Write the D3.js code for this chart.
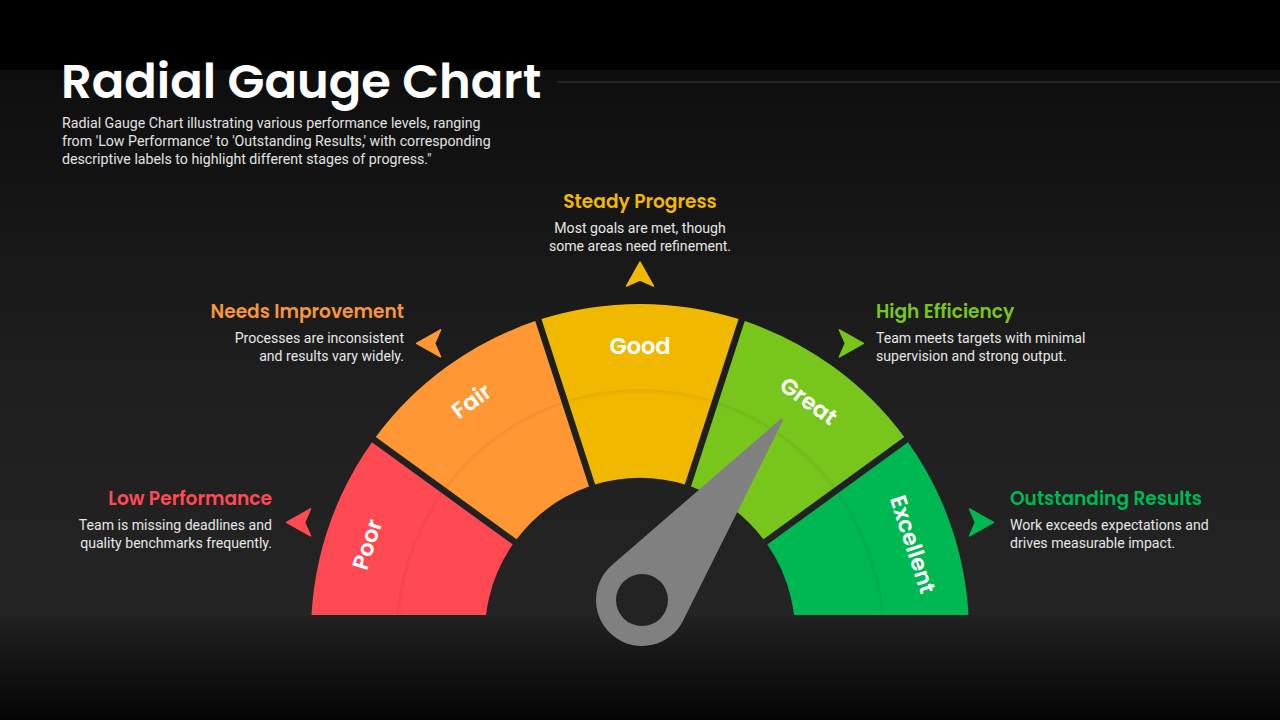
<!DOCTYPE html>
<html>
<head>
<meta charset="utf-8">
<script src="https://cdn.jsdelivr.net/npm/d3@7/dist/d3.min.js"></script>
<style>
  html, body { margin: 0; padding: 0; background: #000; }
  svg { display: block; }
</style>
</head>
<body>
<svg id="chart" width="1280" height="720"></svg>
<script>
// ---------- DATA ----------
const categories = ["Poor", "Fair", "Good", "Great", "Excellent"];
const segmentColors = ["#FF4A54", "#FF9834", "#F1B800", "#78C51C", "#00B852"];
const headings = ["Low Performance", "Needs Improvement", "Steady Progress", "High Efficiency", "Outstanding Results"];
const descriptions = [
  ["Team is missing deadlines and", "quality benchmarks frequently."],
  ["Processes are inconsistent", "and results vary widely."],
  ["Most goals are met, though", "some areas need refinement."],
  ["Team meets targets with minimal", "supervision and strong output."],
  ["Work exceeds expectations and", "drives measurable impact."]
];
const headingColors = ["#FF4A54", "#F7963A", "#F1B800", "#78C51C", "#00B852"];
const needleValue = 71;           // on a 0–100 gauge scale
const gaugeDomain = [0, 100];
const titleText = "Radial Gauge Chart";
const subtitleLines = [
  "Radial Gauge Chart illustrating various performance levels, ranging",
  "from 'Low Performance' to 'Outstanding Results,' with corresponding",
  "descriptive labels to highlight different stages of progress.\""
];

// ---------- SETUP ----------
const W = 1280, H = 720;
const svg = d3.select("#chart");
const defs = svg.append("defs");

const bgGrad = defs.append("linearGradient").attr("id", "bgGrad")
  .attr("x1", 0).attr("y1", 0).attr("x2", 0).attr("y2", 1);
bgGrad.append("stop").attr("offset", "0%").attr("stop-color", "#0e0e0e");
bgGrad.append("stop").attr("offset", "55%").attr("stop-color", "#1e1e1e");
bgGrad.append("stop").attr("offset", "100%").attr("stop-color", "#242424");

const botGrad = defs.append("linearGradient").attr("id", "botGrad")
  .attr("x1", 0).attr("y1", 0).attr("x2", 0).attr("y2", 1);
botGrad.append("stop").attr("offset", "0%").attr("stop-color", "#212121");
botGrad.append("stop").attr("offset", "100%").attr("stop-color", "#050505");

svg.append("rect").attr("width", W).attr("height", H).attr("fill", "#000");
svg.append("rect").attr("x", 0).attr("y", 70).attr("width", W).attr("height", 545).attr("fill", "url(#bgGrad)");
svg.append("rect").attr("x", 0).attr("y", 615).attr("width", W).attr("height", 105).attr("fill", "url(#botGrad)");

// Title
svg.append("text").attr("x", 61).attr("y", 98)
  .attr("fill", "#ffffff")
  .style("font-family", "Poppins, Inter, 'Noto Sans', sans-serif")
  .style("font-weight", 600).style("font-size", "48px")
  .text(titleText);
svg.append("line").attr("x1", 557).attr("x2", W).attr("y1", 82).attr("y2", 82)
  .attr("stroke", "#3a3a3a").attr("stroke-width", 1);

svg.append("g").selectAll("text").data(subtitleLines).join("text")
  .attr("x", 62).attr("y", (d, i) => 128 + i * 18)
  .attr("fill", "#e2e2e2")
  .style("font-family", "Roboto, 'Liberation Sans', sans-serif")
  .style("font-size", "14.2px")
  .text(d => d);

// ---------- GAUGE ----------
const cx = 640, cy = 633;
const rOuter = 329, rInner = 155, rRing = 243;
const deg = Math.PI / 180;

const angleScale = d3.scaleLinear().domain([0, categories.length]).range([-90 * deg, 90 * deg]);
const valueAngle = d3.scaleLinear().domain(gaugeDomain).range([-90 * deg, 90 * deg]);

const segData = categories.map((c, i) => ({
  name: c, i,
  startAngle: i === 0 ? -100 * deg : angleScale(i),
  endAngle: i === categories.length - 1 ? 100 * deg : angleScale(i + 1),
  mid: (angleScale(i) + angleScale(i + 1)) / 2
}));

defs.append("clipPath").attr("id", "gaugeClip")
  .append("rect").attr("x", 0).attr("y", 0).attr("width", W).attr("height", 615);

const gauge = svg.append("g").attr("clip-path", "url(#gaugeClip)");
const gG = gauge.append("g").attr("transform", `translate(${cx},${cy})`);

const arc = d3.arc().innerRadius(rInner).outerRadius(rOuter).padAngle(0.065).padRadius(100);
gG.selectAll("path.seg").data(segData).join("path")
  .attr("class", "seg")
  .attr("d", arc)
  .attr("fill", (d, i) => segmentColors[i]);

// subtle inner ring shadow line
const ringLine = d3.arc().innerRadius(rRing - 1).outerRadius(rRing + 1).padAngle(0.065).padRadius(100);
gG.selectAll("path.ring").data(segData).join("path")
  .attr("class", "ring")
  .attr("d", ringLine)
  .attr("fill", "rgba(0,0,0,0.05)");
const ringLine2 = d3.arc().innerRadius(rRing - 3).outerRadius(rRing - 1).padAngle(0.065).padRadius(100);
gG.selectAll("path.ring2").data(segData).join("path")
  .attr("class", "ring2")
  .attr("d", ringLine2)
  .attr("fill", "rgba(0,0,0,0.025)");

// segment labels
const rLabel = 287;
gG.selectAll("text.lbl").data(segData).join("text")
  .attr("class", "lbl")
  .attr("transform", d => {
    const x = rLabel * Math.sin(d.mid), y = -rLabel * Math.cos(d.mid);
    return `translate(${x},${y}) rotate(${d.mid / deg})`;
  })
  .attr("text-anchor", "middle")
  .attr("dominant-baseline", "central")
  .attr("fill", "#ffffff")
  .style("font-family", "Poppins, Inter, 'Noto Sans', sans-serif")
  .style("font-weight", 600).style("font-size", "22.5px")
  .text(d => d.name);

// ---------- ARROWS ----------
const rArrow = 358;
const arrowPath = "M0,-13 L13.5,11 L0,5 L-13.5,11 Z"; // points up
const arrowDir = [-90, -90, 0, 90, 90];
svg.append("g").attr("transform", `translate(${cx},${cy})`)
  .selectAll("path").data(segData).join("path")
  .attr("d", arrowPath)
  .attr("stroke-linejoin", "round")
  .attr("stroke-width", 1.5)
  .attr("stroke", (d, i) => segmentColors[i])
  .attr("fill", (d, i) => segmentColors[i])
  .attr("transform", (d, i) => {
    const x = rArrow * Math.sin(d.mid), y = -rArrow * Math.cos(d.mid);
    return `translate(${x},${y}) rotate(${arrowDir[i]})`;
  });

// ---------- TEXT BLOCKS ----------
const blocks = [
  { x: 272, y: 499, anchor: "end" },
  { x: 404, y: 312, anchor: "end" },
  { x: 640, y: 202, anchor: "middle" },
  { x: 876, y: 312, anchor: "start" },
  { x: 1010, y: 499, anchor: "start" }
];
const tb = svg.append("g").selectAll("g").data(blocks).join("g");
tb.append("text")
  .attr("x", d => d.x).attr("y", d => d.y + 6)
  .attr("text-anchor", d => d.anchor)
  .attr("fill", (d, i) => headingColors[i])
  .style("font-family", "Poppins, Inter, 'Noto Sans', sans-serif")
  .style("font-weight", 600).style("font-size", "18.6px")
  .text((d, i) => headings[i]);
tb.each(function (d, i) {
  d3.select(this).selectAll("text.desc").data(descriptions[i]).join("text")
    .attr("class", "desc")
    .attr("x", d.x).attr("y", (t, j) => d.y + 31 + j * 18)
    .attr("text-anchor", d.anchor)
    .attr("fill", "#e6e6e6")
    .style("font-family", "Roboto, 'Liberation Sans', sans-serif")
    .style("font-size", "14.1px")
    .text(t => t);
});

// ---------- NEEDLE ----------
const px = 642, py = 600, rHub = 46, rHole = 26, needleLen = 229;
const a = valueAngle(needleValue);
const tip = [px + needleLen * Math.sin(a), py - needleLen * Math.cos(a)];
const dirAng = Math.atan2(tip[1] - py, tip[0] - px);
const phi = Math.acos(rHub / needleLen);
const t1 = [px + rHub * Math.cos(dirAng + phi), py + rHub * Math.sin(dirAng + phi)];
const perp = [-Math.sin(dirAng), Math.cos(dirAng)];
const tipA = [tip[0] + perp[0] * 1.2, tip[1] + perp[1] * 1.2];
const tipB = [tip[0] - perp[0] * 1.2, tip[1] - perp[1] * 1.2];
const needlePath = d3.path();
needlePath.moveTo(tipB[0], tipB[1]);
needlePath.lineTo(tipA[0], tipA[1]);
needlePath.lineTo(t1[0], t1[1]);
needlePath.arc(px, py, rHub, dirAng + phi, dirAng - phi + 2 * Math.PI, false);
needlePath.closePath();
svg.append("path").attr("d", needlePath.toString()).attr("fill", "#808080");
svg.append("circle").attr("cx", px).attr("cy", py).attr("r", rHole).attr("fill", "#232323");
</script>
</body>
</html>
